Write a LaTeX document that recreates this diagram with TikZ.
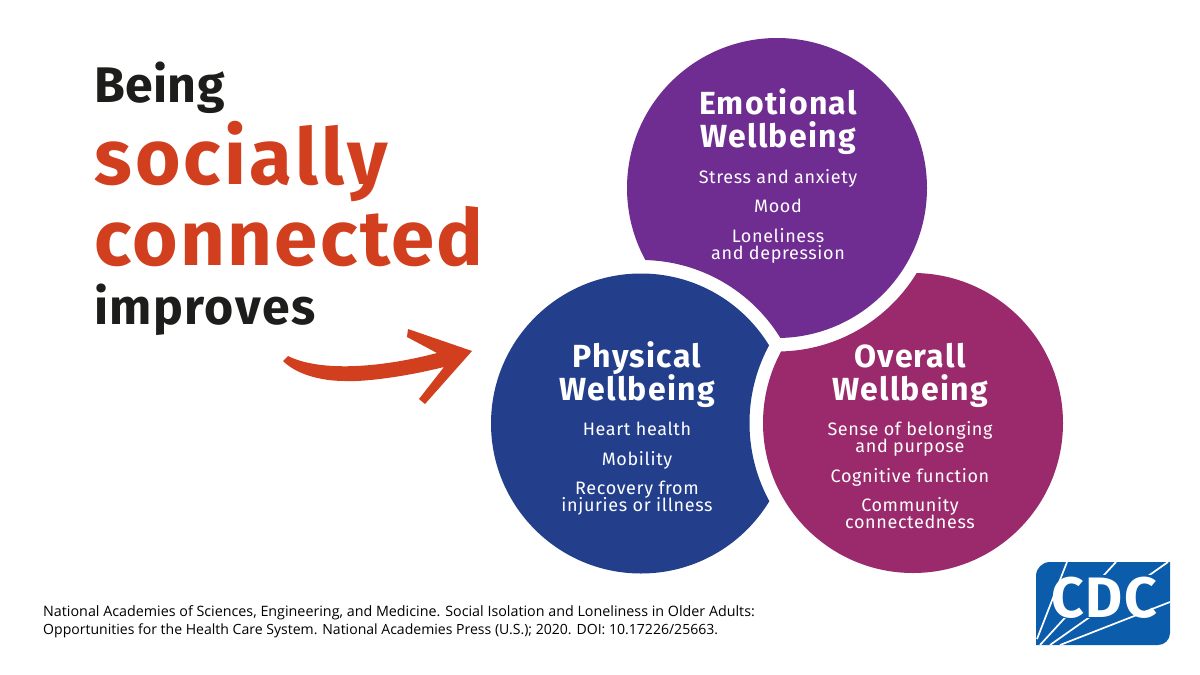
\documentclass[tikz,border=0pt]{standalone}
\usepackage{fontspec}
\setmainfont{Fira Sans}
\newfontfamily\beingf{Fira Sans}[UprightFont=* Bold,LetterSpace=0.8]
\newfontfamily\headf{Fira Sans}[UprightFont=* Bold,LetterSpace=3]
\newfontfamily\redf{Fira Sans}[UprightFont=* Bold,LetterSpace=3]
\newfontfamily\redsf{Fira Sans}[UprightFont=* Bold,LetterSpace=4.2]
\newfontfamily\logof{Fira Sans}[UprightFont=* Bold,LetterSpace=3]
\newfontfamily\circf{Fira Sans}[LetterSpace=3.5]
\newfontfamily\titlef{Fira Sans}[UprightFont=* Bold,LetterSpace=4]
\newfontfamily\footf{Open Sans}
\definecolor{cred}{HTML}{D13F1F}
\definecolor{cblack}{HTML}{1D1D1B}
\definecolor{cpurple}{HTML}{6F2C91}
\definecolor{cblue}{HTML}{233F8C}
\definecolor{cmag}{HTML}{9A2A6C}
\definecolor{cdcblue}{HTML}{0B5CAB}
\tikzset{
 headb/.style={anchor=base west,inner sep=0pt,font=\beingf\fontsize{50}{50}\selectfont,text=cblack},
 head/.style={anchor=base west,inner sep=0pt,font=\headf\fontsize{50}{50}\selectfont,text=cblack},
 headred/.style={anchor=base west,inner sep=0pt,font=\redf\fontsize{78}{78}\selectfont,text=cred},
 headreds/.style={anchor=base west,inner sep=0pt,font=\redsf\fontsize{78}{78}\selectfont,text=cred},
 ctitle/.style={anchor=base,inner sep=0pt,align=center,text=white,font=\titlef\fontsize{32}{33}\selectfont},
 csub/.style={anchor=base,inner sep=0pt,align=center,text=white,font=\circf\fontsize{18}{17}\selectfont},
 foota/.style={anchor=base west,inner sep=0pt,font=\footf\fontsize{14.3}{18}\selectfont,text=black},
 footb/.style={anchor=base west,inner sep=0pt,font=\footf\fontsize{14.05}{18}\selectfont,text=black},
 ray/.style={line width=1.7pt,white}
}
\begin{document}
\begin{tikzpicture}[x=1pt,y=-1pt]
\lineskiplimit=-20pt\relax
\useasboundingbox (0,0) rectangle (1200,675);
\coordinate (ce) at (777,188);
\coordinate (cp) at (641,423.5);
\coordinate (co) at (913,423);
\begin{scope}[even odd rule]
 \clip (0,0) rectangle (1200,675) (cp) circle[radius=163.5];
 \fill[cpurple] (ce) circle[radius=150];
\end{scope}
\begin{scope}[even odd rule]
 \clip (0,0) rectangle (1200,675) (co) circle[radius=163.5];
 \fill[cblue] (cp) circle[radius=150];
\end{scope}
\begin{scope}[even odd rule]
 \clip (0,0) rectangle (1200,675) (ce) circle[radius=163.5];
 \fill[cmag] (co) circle[radius=150];
\end{scope}
\node[headb] (being) at (94,102) {Being};
\node[headreds] (socially) at (94,184) {socially};
\node[headred] (connected) at (94,265) {connected};
\node[head] (improves) at (94,324) {improves};
\fill[cred] (283,361) -- (288,356) .. controls (320,372) and (380,368) .. (437,353)
 -- (407,337) -- (408,329) -- (472,351) -- (425,404) -- (419,399) -- (444,367)
 .. controls (400,378) and (360,382) .. (345,381) .. controls (320,381) and (296,374) .. (283,361) -- cycle;
\node[ctitle] (et) at (778,147) {Emotional\\Wellbeing};
\node[csub] (e1) at (778,183) {Stress and anxiety};
\node[csub] (e2) at (778,212) {Mood};
\node[csub] (e3) at (778,259) {Loneliness\\and depression};
\node[ctitle] (pt) at (637,400) {Physical\\Wellbeing};
\node[csub] (p1) at (637,435) {Heart health};
\node[csub] (p2) at (637,465) {Mobility};
\node[csub] (p3) at (637,511) {Recovery from\\injuries or illness};
\node[ctitle] (ot) at (910,400) {Overall\\Wellbeing};
\node[csub] (o1) at (910,452) {Sense of belonging\\and purpose};
\node[csub] (o2) at (910,482) {Cognitive function};
\node[csub] (o3) at (910,528) {Community\\connectedness};
\node[foota] (f1) at (43,616) {National Academies of Sciences, Engineering, and Medicine. Social Isolation and Loneliness in Older Adults:};
\node[footb] (f2) at (43,634) {Opportunities for the Health Care System. National Academies Press (U.S.); 2020. DOI: 10.17226/25663.};
% logo
\fill[cdcblue] (1050,562) -- (1170,562) -- (1170,633) arc[start angle=0,end angle=90,radius=12] -- (1036,645) -- (1036,576) arc[start angle=180,end angle=270,radius=14] -- cycle;
\draw[ray] (1116,562) -- (1040,645);
\draw[ray] (1168,562) -- (1050,645);
\fill[cdcblue] (1052,575) rectangle (1157,618);
\draw[ray] (1067,562) -- (1037,639);
\draw[ray] (1170,602) -- (1060,645);
\node[anchor=base,inner sep=0pt,text=white,font=\logof\fontsize{57}{57}\selectfont] (cdc) at (1104.5,617.5) {CDC};
\end{tikzpicture}
\end{document}
